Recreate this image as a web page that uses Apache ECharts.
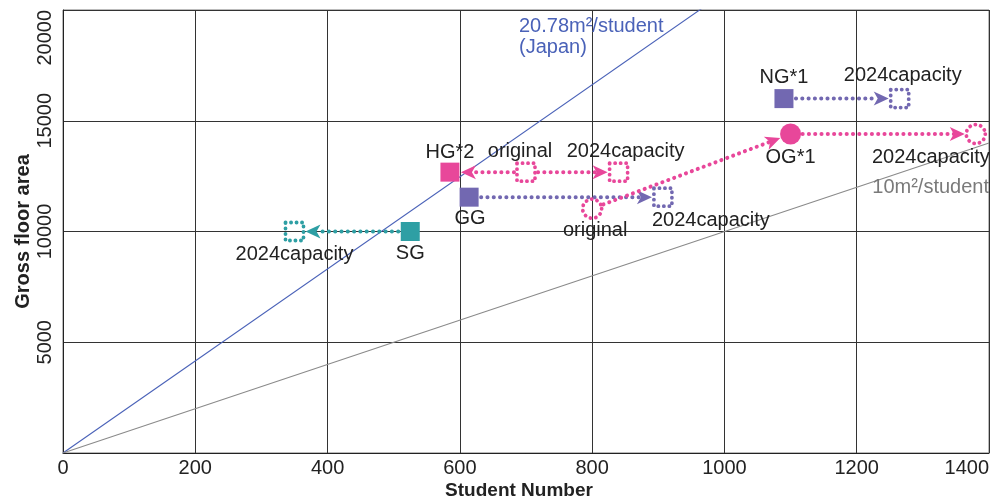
<!DOCTYPE html>
<html>
<head>
<meta charset="utf-8">
<script src="https://cdn.jsdelivr.net/npm/echarts@6/dist/echarts.min.js"></script>
<style>
  html, body { margin: 0; padding: 0; background: #fff; }
  #chart { width: 995px; height: 504px; }
</style>
</head>
<body>
<div id="chart"></div>
<script>
// Schools and their floor area vs. student number
const schools = ['HG*2', 'GG', 'OG*1', 'NG*1', 'SG'];
const schoolShapes = ['rect', 'rect', 'circle', 'rect', 'rect'];
const schoolColors = ['#e8479a', '#7268b1', '#e8479a', '#7268b1', '#2e9fa4'];

const studentsNow = [585, 614, 1100, 1090, 525];
const floorAreaNow = [12680, 11550, 14400, 16000, 10000];

const studentsOriginal = [700, null, 800, null, null];
const floorAreaOriginal = [12680, null, 11030, null, null];

const studentsCapacity2024 = [840, 907, 1380, 1265, 350];
const floorAreaCapacity2024 = [12680, 11550, 14400, 16000, 10000];

// Arrows: [school index, from stage, to stage]
const arrows = [
  [0, 'original', 'now'],
  [0, 'original', 'capacity'],
  [1, 'now', 'capacity'],
  [2, 'original', 'now'],
  [2, 'now', 'capacity'],
  [3, 'now', 'capacity'],
  [4, 'now', 'capacity']
];

// Reference ratios (m² per student)
const ratioValues = [20.78, 10];
const ratioColors = ['#4a62b8', '#8a8a8a'];

// Axis ticks
const xTicks = [0, 200, 400, 600, 800, 1000, 1200, 1400];
const yTicks = [0, 5000, 10000, 15000, 20000];

const FONT = '"Liberation Sans", Arial, Helvetica, sans-serif';
const TEXT = '#222';

function stagePoint(i, stage) {
  if (stage === 'now') return [studentsNow[i], floorAreaNow[i]];
  if (stage === 'original') return [studentsOriginal[i], floorAreaOriginal[i]];
  return [studentsCapacity2024[i], floorAreaCapacity2024[i]];
}

// Label placement for each marker
const labelPlacement = {
  '0-now':      { position: 'top', distance: 0, offset: [0, 0] },
  '0-original': { position: 'top', distance: 0, offset: [-6, 0], text: 'original' },
  '0-capacity': { position: 'top', distance: 0, offset: [7, 0], text: '2024capacity' },
  '1-now':      { position: 'bottom', distance: 2, offset: [1, 0] },
  '1-capacity': { position: 'bottom', distance: 2, offset: [-11, 0], align: 'left', text: '2024capacity' },
  '2-original': { position: 'bottom', distance: 0, offset: [3, 0], text: 'original' },
  '2-now':      { position: 'bottom', distance: 3, offset: [0, 0] },
  '2-capacity': { position: 'bottom', distance: 2, offset: [14, 0], align: 'right', text: '2024capacity' },
  '3-now':      { position: 'top', distance: 2, offset: [0, 0] },
  '3-capacity': { position: 'top', distance: 2, offset: [3, 0], text: '2024capacity' },
  '4-now':      { position: 'bottom', distance: 2, offset: [0, 0] },
  '4-capacity': { position: 'bottom', distance: 2, offset: [0, 0], text: '2024capacity' }
};

function labelFor(i, stage) {
  const p = labelPlacement[i + '-' + stage];
  return {
    show: true,
    position: p.position,
    distance: p.distance,
    offset: p.offset,
    align: p.align || 'center',
    formatter: p.text || schools[i],
    color: TEXT,
    opacity: 1,
    fontFamily: FONT,
    fontSize: 20
  };
}

// Solid markers (current state)
const nowData = schools.map((name, i) => ({
  value: stagePoint(i, 'now'),
  symbol: schoolShapes[i],
  symbolSize: schoolShapes[i] === 'circle' ? 21 : 19,
  itemStyle: { color: schoolColors[i], opacity: 1 },
  label: labelFor(i, 'now')
}));

// Dotted hollow markers (original and 2024 capacity)
const hollowData = [];
schools.forEach((name, i) => {
  ['original', 'capacity'].forEach(stage => {
    const pt = stagePoint(i, stage);
    if (pt[0] == null) return;
    hollowData.push({
      value: pt,
      symbol: schoolShapes[i],
      symbolSize: schoolShapes[i] === 'circle' ? 19 : 18,
      itemStyle: {
        color: 'rgba(0,0,0,0)',
        opacity: 1,
        borderColor: schoolColors[i],
        borderWidth: 3.8,
        borderType: [0.1, 5.4],
        borderCap: 'round'
      },
      label: labelFor(i, stage)
    });
  });
});

const arrowData = arrows.map(([i, from, to]) => {
  const a = stagePoint(i, from), b = stagePoint(i, to);
  return [a[0], a[1], b[0], b[1], i];
});

function renderArrow(params, api) {
  const p1 = api.coord([api.value(0), api.value(1)]);
  const p2 = api.coord([api.value(2), api.value(3)]);
  const color = schoolColors[api.value(4)];
  const dx = p2[0] - p1[0], dy = p2[1] - p1[1];
  const len = Math.hypot(dx, dy);
  const ux = dx / len, uy = dy / len;
  const nx = -uy, ny = ux;
  const startGap = 12, endGap = 11;
  const headLen = 15, headHalf = 7, notch = 4;
  const s = [p1[0] + ux * startGap, p1[1] + uy * startGap];
  const tip = [p2[0] - ux * endGap, p2[1] - uy * endGap];
  const base = [tip[0] - ux * headLen, tip[1] - uy * headLen];
  const inner = [tip[0] - ux * (headLen - notch), tip[1] - uy * (headLen - notch)];
  return {
    type: 'group',
    children: [
      {
        type: 'line',
        shape: { x1: s[0], y1: s[1], x2: inner[0], y2: inner[1] },
        style: { stroke: color, lineWidth: 4, lineDash: [0.1, 6.2], lineCap: 'round', fill: null }
      },
      {
        type: 'polygon',
        shape: { points: [tip, [base[0] + nx * headHalf, base[1] + ny * headHalf], inner, [base[0] - nx * headHalf, base[1] - ny * headHalf]] },
        style: { fill: color }
      }
    ]
  };
}

const xMax = xTicks[xTicks.length - 1];
const ratioSeries = ratioValues.map((r, k) => ({
  type: 'line',
  data: [[0, 0], [xMax, r * xMax]],
  symbol: 'none',
  silent: true,
  clip: true,
  lineStyle: { color: ratioColors[k], width: 1.1 },
  z: 1
}));

const plainNumber = v => String(v);

const chart = echarts.init(document.getElementById('chart'));
chart.setOption({
  animation: false,
  backgroundColor: '#fff',
  textStyle: { fontFamily: FONT },
  grid: {
    left: 63, right: 6, top: 10, bottom: 51,
    outerBoundsMode: 'none',
    show: true, borderColor: '#777', borderWidth: 1
  },
  xAxis: {
    type: 'value',
    min: xTicks[0],
    max: xMax,
    interval: xTicks[1] - xTicks[0],
    name: 'Student Number',
    nameLocation: 'middle',
    nameGap: 28,
    nameMoveOverlap: false,
    nameTextStyle: { fontFamily: FONT, fontSize: 19, fontWeight: 'bold', color: TEXT, padding: [0, 14, 0, 0] },
    axisLine: { show: true, lineStyle: { color: '#222', width: 1 } },
    axisTick: { show: false },
    splitLine: { show: true, lineStyle: { color: '#333', width: 1 } },
    axisLabel: { fontFamily: FONT, fontSize: 20, color: TEXT, margin: 5, alignMaxLabel: 'right', formatter: plainNumber }
  },
  yAxis: {
    type: 'value',
    min: yTicks[0],
    max: yTicks[yTicks.length - 1],
    interval: yTicks[1] - yTicks[0],
    name: 'Gross floor area',
    nameLocation: 'middle',
    nameGap: 30,
    nameMoveOverlap: false,
    nameTextStyle: { fontFamily: FONT, fontSize: 20, fontWeight: 'bold', color: TEXT },
    axisLine: { show: true, lineStyle: { color: '#222', width: 1 } },
    axisTick: { show: false },
    splitLine: { show: true, lineStyle: { color: '#333', width: 1 } },
    axisLabel: { fontFamily: FONT, fontSize: 20, color: TEXT, margin: 8, rotate: 90, showMinLabel: false, alignMaxLabel: 'right', formatter: plainNumber }
  },
  series: [
    ...ratioSeries,
    {
      type: 'custom',
      renderItem: renderArrow,
      data: arrowData,
      encode: { x: [0, 2], y: [1, 3] },
      silent: true,
      z: 3
    },
    {
      type: 'scatter',
      data: hollowData,
      silent: true,
      z: 4
    },
    {
      type: 'scatter',
      data: nowData,
      silent: true,
      z: 5
    }
  ],
  graphic: [
    {
      type: 'text',
      left: 519,
      top: 16,
      style: {
        text: ratioValues[0] + 'm²/student\n(Japan)',
        fill: ratioColors[0],
        font: '20px ' + FONT,
        lineHeight: 21
      },
      z: 10
    },
    {
      type: 'text',
      right: 6,
      top: 177,
      style: {
        text: ratioValues[1] + 'm²/student',
        fill: '#7a7a7a',
        font: '20px ' + FONT
      },
      z: 10
    }
  ]
});
</script>
</body>
</html>
